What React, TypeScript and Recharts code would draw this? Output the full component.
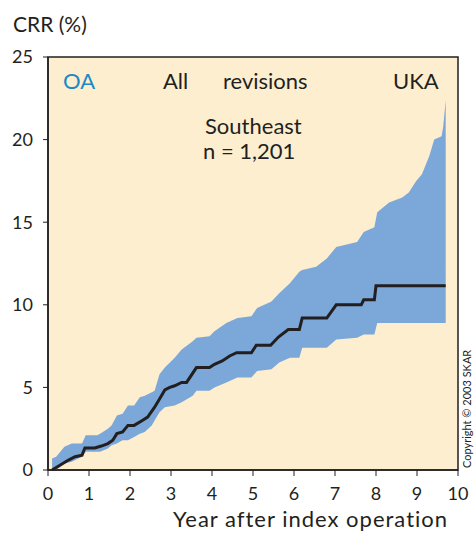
import { ComposedChart, Area, Line, XAxis, YAxis, ReferenceArea } from 'recharts'

// confidence band (lower / upper) sampled at the same years
const bandYears = [0.1, 0.2, 0.4, 0.58, 0.83, 0.92, 1.2, 1.27, 1.46, 1.55, 1.68, 1.82, 1.95, 2.1, 2.24, 2.36, 2.53, 2.6, 2.72, 2.85, 3.09, 3.26, 3.53, 3.62, 3.94, 4.06, 4.35, 4.62, 4.96, 5.1, 5.45, 5.64, 5.9, 6.13, 6.2, 6.54, 6.8, 7.03, 7.54, 7.7, 7.96, 8.03, 8.32, 8.64, 8.8, 8.98, 9.12, 9.3, 9.42, 9.6, 9.64, 9.7]
const bandLow = [0, 0, 0.4, 0.5, 0.8, 1.1, 1.1, 1.1, 1.3, 1.5, 1.6, 1.8, 1.8, 2.0, 2.2, 2.3, 2.7, 3.0, 3.5, 3.8, 3.9, 4.1, 4.5, 4.8, 4.8, 5.0, 5.3, 5.6, 5.6, 6.0, 6.1, 6.5, 6.8, 6.8, 7.4, 7.4, 7.4, 7.9, 8.0, 8.2, 8.2, 8.9, 8.9, 8.9, 8.9, 8.9, 8.9, 8.9, 8.9, 8.9, 8.9, 8.9]
const bandHigh = [0.7, 0.8, 1.4, 1.6, 1.6, 2.1, 2.1, 2.2, 2.5, 2.7, 3.3, 3.4, 3.9, 3.9, 4.4, 4.5, 4.7, 4.8, 5.8, 6.2, 6.8, 7.3, 7.8, 8.0, 8.1, 8.4, 8.9, 9.2, 9.3, 9.8, 10.2, 10.7, 11.3, 12.0, 12.1, 12.3, 12.8, 13.5, 13.8, 14.4, 14.7, 15.6, 16.2, 16.5, 16.8, 17.5, 17.9, 19.0, 20.0, 20.2, 20.8, 22.4]

// cumulative revision rate
const crrYears = [0.1, 0.3, 0.5, 0.66, 0.83, 0.9, 1.14, 1.3, 1.46, 1.58, 1.68, 1.82, 1.95, 2.1, 2.3, 2.43, 2.6, 2.72, 2.85, 2.97, 3.09, 3.26, 3.38, 3.62, 3.94, 4.06, 4.25, 4.43, 4.6, 4.96, 5.08, 5.43, 5.62, 5.86, 6.13, 6.2, 6.8, 7.03, 7.64, 7.7, 7.96, 8.0, 9.7]
const crrValues = [0, 0.3, 0.6, 0.8, 0.9, 1.33, 1.33, 1.45, 1.6, 1.8, 2.2, 2.3, 2.7, 2.7, 3.0, 3.2, 3.8, 4.3, 4.85, 5.0, 5.1, 5.3, 5.3, 6.2, 6.2, 6.4, 6.6, 6.9, 7.1, 7.1, 7.55, 7.55, 8.05, 8.5, 8.5, 9.2, 9.2, 10.0, 10.0, 10.3, 10.3, 11.15, 11.15]

const xTicks = [0, 1, 2, 3, 4, 5, 6, 7, 8, 9, 10]
const yTicks = [0, 5, 10, 15, 20, 25]

const bandData = bandYears.map((x, i) => ({ x, range: [bandLow[i], bandHigh[i]] }))
const crrData = crrYears.map((x, i) => ({ x, crr: crrValues[i] }))

const ink = '#231f20'
const font = 'Lato, "Open Sans", sans-serif'

const txt = (left: number, top: number, size: number, color = ink): React.CSSProperties => ({
  position: 'absolute',
  left,
  top,
  fontSize: size,
  color,
  whiteSpace: 'nowrap',
  lineHeight: 1,
})

export default function App() {
  return (
    <div style={{ position: 'absolute', left: 0, top: 0, width: 474, height: 535, background: '#fff', fontFamily: font }}>
      <ComposedChart
        width={474}
        height={535}
        data={bandData}
        margin={{ top: 57, right: 16, bottom: 35, left: 0 }}
      >
        <ReferenceArea x1={0} x2={10} y1={0} y2={25} fill="#fdeecf" fillOpacity={1} stroke={ink} strokeWidth={1.5} />
        <XAxis
          dataKey="x"
          type="number"
          domain={[0, 10]}
          ticks={xTicks}
          tickSize={6}
          tickMargin={11}
          axisLine={{ stroke: ink, strokeWidth: 1.5 }}
          tickLine={{ stroke: ink }}
          tick={{ fill: ink, fontSize: 18, fontFamily: font }}
          allowDuplicatedCategory={false}
        />
        <YAxis
          type="number"
          domain={[0, 25]}
          ticks={yTicks}
          width={48}
          tickSize={5}
          tickMargin={10}
          axisLine={{ stroke: ink, strokeWidth: 1.5 }}
          tickLine={{ stroke: ink }}
          tick={{ fill: ink, fontSize: 18, fontFamily: font }}
        />
        <Area
          dataKey="range"
          type="linear"
          stroke="none"
          fill="#7ba7d9"
          fillOpacity={1}
          isAnimationActive={false}
        />
        <Line
          data={crrData}
          dataKey="crr"
          type="linear"
          stroke={ink}
          strokeWidth={3}
          dot={false}
          isAnimationActive={false}
        />
      </ComposedChart>

      <div style={txt(13, 13, 21)}>CRR (%)</div>
      <div style={txt(63, 70, 22, '#1a8ac6')}>OA</div>
      <div style={txt(163, 70, 22)}>All</div>
      <div style={txt(223, 70, 22)}>revisions</div>
      <div style={txt(393, 70, 22)}>UKA</div>
      <div style={txt(205, 115, 22)}>Southeast</div>
      <div style={txt(203, 140, 22)}>n = 1,201</div>
      <div style={{ ...txt(173, 508, 22), letterSpacing: 1 }}>Year after index operation</div>
      <div
        style={{
          ...txt(0, 0, 11),
          left: 461,
          top: 468,
          transform: 'rotate(-90deg)',
          transformOrigin: '0 0',
        }}
      >
        Copyright © 2003 SKAR
      </div>
    </div>
  )
}
